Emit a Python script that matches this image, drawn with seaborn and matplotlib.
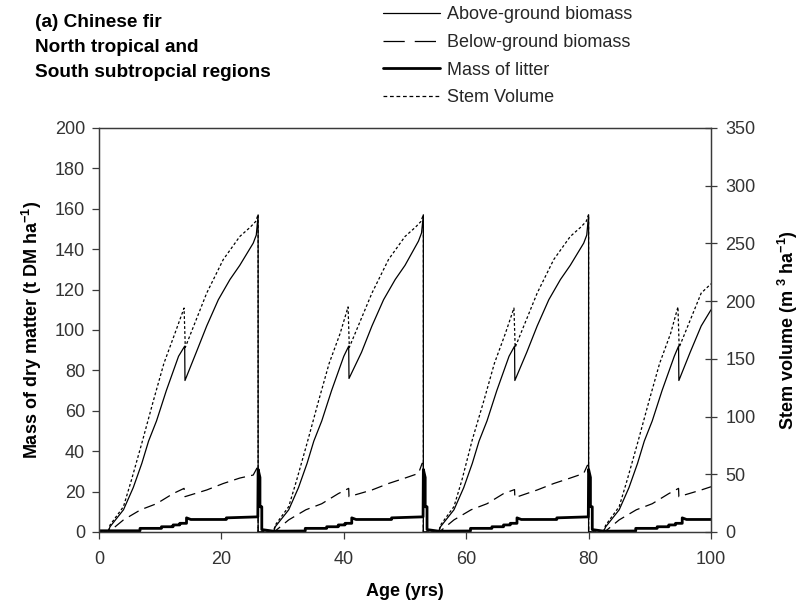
import matplotlib
matplotlib.use("Agg")
import matplotlib.pyplot as plt
from matplotlib.lines import Line2D
import seaborn as sns

# ---- Above-ground biomass (t DM/ha) ----
agb_age = [0, 1.5, 1.8, 4.0, 5.6, 7.0, 8.1, 9.4, 11.0, 13.0, 14.0, 14.05, 15.9, 17.6, 19.5, 21.4, 23.0, 25.2, 25.7, 26.0, 26.0,
           28.5, 28.8, 31.0, 32.6, 34.0, 35.1, 36.4, 38.0, 40.0, 40.8, 40.85, 42.9, 44.6, 46.5, 48.4, 50.0, 52.2, 52.7, 53.0, 53.0,
           55.5, 55.8, 58.0, 59.6, 61.0, 62.1, 63.4, 65.0, 67.0, 67.9, 67.95, 69.9, 71.6, 73.5, 75.4, 77.0, 79.2, 79.7, 80.0, 80.0,
           82.4, 82.8, 85.0, 86.6, 88.0, 89.1, 90.4, 92.0, 94.0, 94.7, 94.75, 96.6, 98.4, 100.0]
agb = [0, 0, 2.6, 11, 22, 34, 45, 55, 70, 87, 92, 75, 89, 102, 115, 125, 132, 143, 147, 157, 0,
       0, 2.6, 11, 22, 34, 45, 55, 70, 87, 92, 76, 89, 102, 115, 125, 132, 144, 148, 157, 0,
       0, 2.6, 11, 22, 34, 45, 55, 70, 87, 92, 75, 89, 102, 115, 125, 132, 143, 147, 157, 0,
       0, 2.6, 11, 22, 34, 45, 55, 70, 87, 92, 75, 89, 102, 110]

# ---- Below-ground biomass (t DM/ha) ----
bgb_age = [0, 1.5, 2.0, 4.0, 6.8, 9.4, 12.1, 13.9, 14.05, 17.6, 20.3, 23.0, 25.2, 25.8, 26.0, 26.0,
           28.5, 29.0, 31.0, 33.8, 36.4, 39.1, 40.8, 40.85, 44.6, 47.3, 50.0, 52.2, 52.8, 53.0, 53.0,
           55.5, 56.0, 58.0, 60.8, 63.4, 66.1, 67.9, 67.95, 71.6, 74.3, 77.0, 79.2, 79.8, 80.0, 80.0,
           82.4, 83.0, 85.0, 87.8, 90.4, 93.1, 94.7, 94.75, 98.4, 100.0]
bgb = [0, 0, 1, 6, 11, 14, 19, 21.6, 17.5, 20.8, 24, 26.7, 28.2, 31.6, 31.6, 0,
       0, 1, 6, 11, 14, 19, 21.6, 17.5, 20.8, 24, 26.7, 29, 34, 34, 0,
       0, 1, 6, 11, 14, 19, 21.0, 17.0, 20.8, 24, 26.7, 29, 33, 33, 0,
       0, 1, 6, 11, 14, 19, 21.6, 17.5, 20.8, 22.4]

# ---- Mass of litter (t DM/ha) ----
lit_age = [0, 6.7, 6.7, 10.2, 10.2, 12.1, 12.1, 13.2, 13.2, 14.3, 14.3, 15.0, 20.8, 20.8, 25.95,
           26.0, 26.3, 26.3, 26.6, 26.6, 28.5,
           33.7, 33.7, 37.2, 37.2, 39.1, 39.1, 40.2, 40.2, 41.3, 41.3, 42.0, 47.8, 47.8, 52.95,
           53.0, 53.3, 53.3, 53.6, 53.6, 55.5,
           60.7, 60.7, 64.2, 64.2, 66.1, 66.1, 67.2, 67.2, 68.3, 68.3, 69.0, 74.8, 74.8, 79.95,
           80.0, 80.3, 80.3, 80.6, 80.6, 82.5,
           87.7, 87.7, 91.2, 91.2, 93.1, 93.1, 94.2, 94.2, 95.3, 95.3, 96.0, 100.0]
litter = [0.6, 0.6, 1.8, 1.8, 2.6, 2.6, 3.5, 3.5, 4.3, 4.3, 7.0, 6.2, 6.2, 7.0, 7.5,
          31, 27, 12.5, 12.5, 1.2, 0.4,
          0.5, 1.8, 1.8, 2.6, 2.6, 3.5, 3.5, 4.3, 4.3, 7.0, 6.2, 6.2, 7.0, 7.5,
          31, 27, 12.5, 12.5, 1.2, 0.4,
          0.5, 1.8, 1.8, 2.6, 2.6, 3.5, 3.5, 4.3, 4.3, 7.0, 6.2, 6.2, 7.0, 7.5,
          31, 27, 12.5, 12.5, 1.2, 0.4,
          0.5, 1.8, 1.8, 2.6, 2.6, 3.5, 3.5, 4.3, 4.3, 7.0, 6.2, 6.2]

# ---- Stem volume (m3/ha), right axis ----
vol_age = [0, 1.5, 1.8, 4.0, 5.3, 7.0, 8.9, 10.6, 12.4, 13.9, 14.1, 17.6, 20.3, 23.0, 24.7, 25.6, 26.0, 26.0,
           28.5, 28.8, 31.0, 32.3, 34.0, 35.9, 37.6, 39.4, 40.7, 40.9, 44.6, 47.3, 50.0, 51.7, 52.6, 53.0, 53.0,
           55.5, 55.8, 58.0, 59.3, 61.0, 62.9, 64.6, 66.4, 67.8, 68.0, 71.6, 74.3, 77.0, 78.7, 79.6, 80.0, 80.0,
           82.4, 82.8, 85.0, 86.3, 88.0, 89.9, 91.6, 93.4, 94.6, 94.8, 98.4, 100.0]
vol = [0, 0, 6, 22, 45, 77, 114, 146, 172, 194, 160, 207, 236, 256, 264, 269, 275, 0,
       0, 6, 22, 45, 77, 114, 146, 172, 195, 160, 207, 236, 256, 264, 269, 275, 0,
       0, 6, 22, 45, 80, 114, 146, 172, 194, 160, 207, 236, 256, 264, 269, 275, 0,
       0, 6, 22, 45, 77, 114, 146, 172, 195, 160, 207, 215]

x_ticks = [0, 20, 40, 60, 80, 100]
left_ticks = list(range(0, 201, 20))
right_ticks = list(range(0, 351, 50))

series_labels = ["Above-ground biomass", "Below-ground biomass", "Mass of litter", "Stem Volume"]
title_lines = ["(a) Chinese fir", "North tropical and", "South subtropcial regions"]

sns.set_theme(style="white")
plt.rcParams["font.family"] = ["Liberation Sans", "DejaVu Sans"]
plt.rcParams["mathtext.default"] = "regular"

W, H = 803, 604
fig = plt.figure(figsize=(W / 100, H / 100), dpi=100)
fig.patch.set_facecolor("white")
ax = fig.add_axes([99 / W, 72 / H, 612 / W, 404 / H])
ax2 = ax.twinx()

ink = "black"
dash_bgb = (0, (9, 5))
dot_vol = (0, (2.2, 1.8))

sns.lineplot(x=agb_age, y=agb, ax=ax, color=ink, linewidth=0.9, sort=False, estimator=None)
sns.lineplot(x=bgb_age, y=bgb, ax=ax, color=ink, linewidth=0.9, linestyle=dash_bgb, sort=False, estimator=None)
sns.lineplot(x=lit_age, y=litter, ax=ax, color=ink, linewidth=2.0, sort=False, estimator=None)
sns.lineplot(x=vol_age, y=vol, ax=ax2, color=ink, linewidth=0.9, linestyle=dot_vol, sort=False, estimator=None)

ax.set_xlim(0, 100)
ax.set_ylim(0, 200)
ax2.set_ylim(0, 350)
ax.set_xticks(x_ticks)
ax.set_yticks(left_ticks)
ax2.set_yticks(right_ticks)

tick_col = "#333333"
spine_col = "#3a3a3a"
for a in (ax, ax2):
    for s in a.spines.values():
        s.set_visible(True)
        s.set_color(spine_col)
        s.set_linewidth(0.9)
    a.grid(False)

ax.tick_params(axis="x", direction="out", length=5, width=0.9, colors=spine_col, labelcolor=tick_col,
               labelsize=13, pad=9, bottom=True, top=False)
ax.tick_params(axis="y", direction="out", length=5, width=0.9, colors=spine_col, labelcolor=tick_col,
               labelsize=13, pad=5, left=True, right=False)
ax2.tick_params(axis="y", direction="inout", length=9, width=0.9, colors=spine_col, labelcolor=tick_col,
                labelsize=13, pad=6, right=True, left=False)

ax.set_xlabel("Age (yrs)", fontsize=13, fontweight="bold", color="black")
ax.set_ylabel("Mass of dry matter (t DM ha$^{-1}$)", fontsize=13, fontweight="bold", color="black")
ax2.set_ylabel("Stem volume (m $^{3}$ ha$^{-1}$)", fontsize=13, fontweight="bold", color="black",
               rotation=90)
ax.xaxis.set_label_coords(0.5, (532 - 583) / 404)
ax.yaxis.set_label_coords((44 - 99) / 612, 0.5)
ax2.yaxis.set_label_coords((776 - 99) / 612, 0.5)

for i, line in enumerate(title_lines):
    fig.text(35 / W, 1 - (22.5 + 25 * i) / H, line, fontsize=13.7, fontweight="bold",
             ha="left", va="center", color="black")

handles = [
    Line2D([], [], color=ink, linewidth=0.9),
    Line2D([], [], color=ink, linewidth=0.9, linestyle=(0, (17, 8))),
    Line2D([], [], color=ink, linewidth=2.0),
    Line2D([], [], color=ink, linewidth=0.9, linestyle=(0, (3, 2.2))),
]
fig.legend(handles, series_labels, loc="upper left", bbox_to_anchor=(383 / W, 1 - 6 / H),
           frameon=False, fontsize=13, handlelength=3.15, handletextpad=0.4,
           labelspacing=0.6, borderpad=0, borderaxespad=0)

fig.savefig("out.png", dpi=100, facecolor="white")
